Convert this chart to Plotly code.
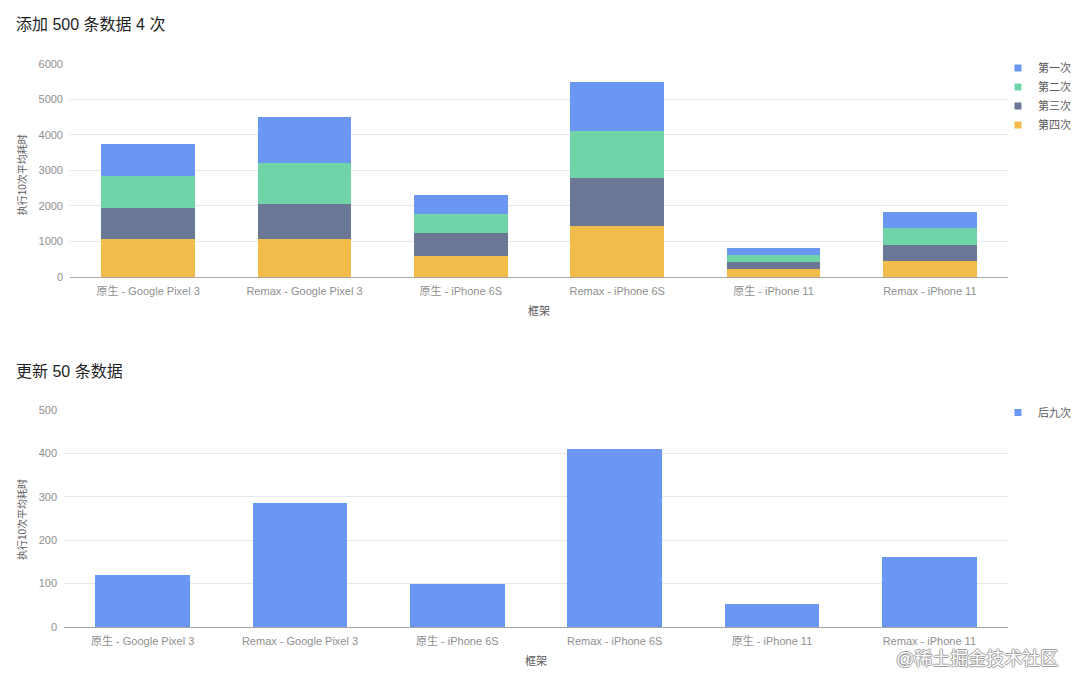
import plotly.graph_objects as go

categories = ["原生 - Google Pixel 3", "Remax - Google Pixel 3", "原生 - iPhone 6S",
              "Remax - iPhone 6S", "原生 - iPhone 11", "Remax - iPhone 11"]
first_run = [900, 1300, 535, 1370, 190, 460]
second_run = [895, 1130, 545, 1325, 205, 470]
third_run = [895, 1000, 640, 1365, 200, 460]
fourth_run = [1060, 1070, 600, 1425, 225, 450]
update_after_nine = [120, 285, 99, 411, 53, 162]

top_names = ["第一次", "第二次", "第三次", "第四次"]
bottom_name = "后九次"

C_BLUE = "#6b96f2"
C_GREEN = "#6fd5a9"
C_GRAY = "#6b7895"
C_YELLOW = "#f2bc4b"

FONT = "Liberation Sans, Noto Sans CJK SC, sans-serif"
TICK_C = "#8f8f8f"
TEXT_C = "#595959"

fig = go.Figure()

# stacked bars, bottom to top
stack = [(fourth_run, top_names[3], C_YELLOW), (third_run, top_names[2], C_GRAY),
         (second_run, top_names[1], C_GREEN), (first_run, top_names[0], C_BLUE)]
for vals, name, col in stack:
    fig.add_trace(go.Bar(x=categories, y=vals, name=name, marker=dict(color=col, line=dict(width=0)),
                         xaxis="x", yaxis="y", showlegend=False))

fig.add_trace(go.Bar(x=categories, y=update_after_nine, name=bottom_name,
                     marker=dict(color=C_BLUE, line=dict(width=0)),
                     xaxis="x2", yaxis="y2", showlegend=False))

# legend entries (small square markers)
for name, col in [(top_names[0], C_BLUE), (top_names[1], C_GREEN), (top_names[2], C_GRAY), (top_names[3], C_YELLOW)]:
    fig.add_trace(go.Scatter(x=[None], y=[None], mode="markers", name=name,
                             marker=dict(symbol="square", size=7, color=col),
                             xaxis="x", yaxis="y", legend="legend"))
fig.add_trace(go.Scatter(x=[None], y=[None], mode="markers", name=bottom_name,
                         marker=dict(symbol="square", size=7, color=C_BLUE),
                         xaxis="x2", yaxis="y2", legend="legend2"))

axis_common = dict(showgrid=False, zeroline=False, ticks="", tickfont=dict(size=11, color=TICK_C, family=FONT),
                   showline=True, linecolor="#a6a6a6", linewidth=1, ticklabelstandoff=4, fixedrange=True,
                   automargin=False)
yaxis_common = dict(showgrid=True, gridcolor="#e8e8e8", gridwidth=1, zeroline=False, ticks="",
                    tickfont=dict(size=11, color=TICK_C, family=FONT), showline=False,
                    ticklabelstandoff=6, fixedrange=True, automargin=False)

fig.update_layout(
    width=1072, height=680,
    margin=dict(l=56, r=72, t=56, b=61, autoexpand=False),
    paper_bgcolor="white", plot_bgcolor="white",
    font=dict(family=FONT, color=TEXT_C),
    barmode="stack", bargap=0.4,
    xaxis=dict(domain=[0.00636, 1], anchor="y", **axis_common),
    yaxis=dict(domain=[0.6217, 1], anchor="x", range=[0, 6000], tickvals=[0, 1000, 2000, 3000, 4000, 5000, 6000],
               **yaxis_common),
    xaxis2=dict(domain=[0, 1], anchor="y2", **axis_common),
    yaxis2=dict(domain=[0, 0.3854], anchor="x2", range=[0, 500], tickvals=[0, 100, 200, 300, 400, 500],
                **yaxis_common),
    legend=dict(xref="container", yref="container", x=0.9235, y=0.9331, xanchor="left", yanchor="top",
                bgcolor="rgba(0,0,0,0)", font=dict(size=11, color=TEXT_C, family=FONT), traceorder="normal"),
    legend2=dict(xref="container", yref="container", x=0.9235, y=0.4265, xanchor="left", yanchor="top",
                 bgcolor="rgba(0,0,0,0)", font=dict(size=11, color=TEXT_C, family=FONT)),
    showlegend=True,
)

annotations = [
    dict(text="添加 500 条数据 4 次", x=-0.053, y=1.0693, xanchor="left", yanchor="middle",
         font=dict(size=16, color="#1f1f1f", family=FONT)),
    dict(text="更新 50 条数据", x=-0.053, y=0.4547, xanchor="left", yanchor="middle",
         font=dict(size=16, color="#1f1f1f", family=FONT)),
    dict(text="执行10次平均耗时", x=-0.0445, y=0.804, xanchor="center", yanchor="middle", textangle=-90,
         font=dict(size=10, color=TEXT_C, family=FONT)),
    dict(text="执行10次平均耗时", x=-0.0445, y=0.1918, xanchor="center", yanchor="middle", textangle=-90,
         font=dict(size=10, color=TEXT_C, family=FONT)),
    dict(text="框架", x=0.5033, y=0.5613, xanchor="center", yanchor="middle",
         font=dict(size=11, color=TEXT_C, family=FONT)),
    dict(text="框架", x=0.5, y=-0.0604, xanchor="center", yanchor="middle",
         font=dict(size=11, color=TEXT_C, family=FONT)),
    dict(text="@稀土掘金技术社区", x=1.0551, y=-0.0575, xanchor="right", yanchor="middle",
         font=dict(size=18, color="#ffffff", family=FONT,
                   shadow="-1px 0 #a0a0a0, 1px 0 #a0a0a0, 0 -1px #a0a0a0, 0 1px #a0a0a0")),
]
for a in annotations:
    a.update(xref="paper", yref="paper", showarrow=False)
fig.update_layout(annotations=annotations)

fig.write_html("out.html")
